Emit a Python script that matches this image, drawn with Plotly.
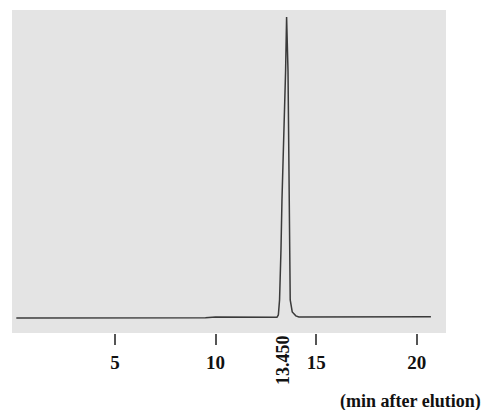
import plotly.graph_objects as go

# Chromatogram data (time in min, relative detector response)
time_min = [0.1, 5.0, 9.5, 10.0, 12.5, 13.05, 13.12, 13.18, 13.25, 13.30, 13.48, 13.53,
            13.60, 13.65, 13.68, 13.71, 13.81, 13.99, 14.14, 15.0, 20.0, 20.7]
response = [0.0, 0.0, 0.1, 0.3, 0.2, 0.2, 1.0, 6.0, 22.6, 39.2, 82.0, 100.0,
            82.0, 39.2, 22.6, 6.0, 2.0, 0.7, 0.3, 0.3, 0.4, 0.4]

tick_vals = [5, 10, 15, 20]
tick_text = ["5", "10", "15", "20"]
peak_label = "13.450"
peak_time = 13.45
axis_title = "(min after elution)"

fig = go.Figure()
fig.add_trace(go.Scatter(
    x=time_min, y=response, mode="lines",
    line=dict(color="#3a3a3a", width=1.5),
    hoverinfo="skip", showlegend=False,
))

font_bold = dict(family="Liberation Serif", size=19, color="#111111")

fig.update_xaxes(
    range=[-0.114, 21.45],
    tickvals=tick_vals, ticktext=["<b>" + t + "</b>" for t in tick_text],
    ticks="outside", ticklen=11, tickwidth=2, tickcolor="#555555",
    showgrid=False, zeroline=False, showline=False,
    tickfont=font_bold, ticklabelstandoff=1,
)
fig.update_yaxes(
    range=[-5.0, 102.3], visible=False, showgrid=False, zeroline=False,
)

fig.add_annotation(
    x=peak_time, xref="x", y=-0.0836, yref="paper",
    text="<b>" + peak_label + "</b>", textangle=-90, showarrow=False,
    xanchor="center", yanchor="middle", xshift=-2,
    font=dict(family="Liberation Serif", size=18, color="#111111"),
)
fig.add_annotation(
    x=0.751, xref="paper", y=-0.2136, yref="paper",
    text="<b>" + axis_title + "</b>", showarrow=False,
    xanchor="left", yanchor="middle",
    font=dict(family="Liberation Serif", size=18, color="#111111"),
)

fig.update_layout(
    width=484, height=410,
    margin=dict(l=12, r=38, t=10, b=77),
    paper_bgcolor="white", plot_bgcolor="#e4e4e4",
)

fig.write_html("out.html")
